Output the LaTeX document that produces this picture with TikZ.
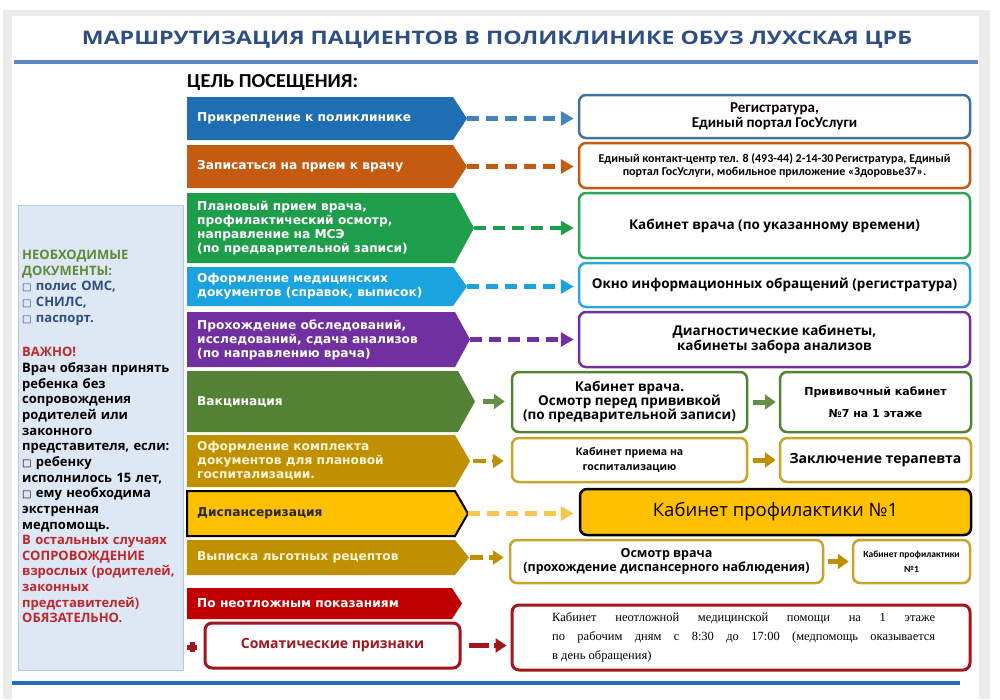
\documentclass[tikz,border=0pt]{standalone}
\usepackage{fontspec}
\usepackage{graphicx}
\usetikzlibrary{arrows.meta}
\setmainfont{Open Sans}
\newfontfamily\dv{DejaVu Sans}
\newfontfamily\carl{Carlito}
\newfontfamily\tnr{Liberation Serif}
\definecolor{cblue}{HTML}{1F6DB3}
\definecolor{corange}{HTML}{C55A11}
\definecolor{cgreen}{HTML}{1E9E4A}
\definecolor{clblue}{HTML}{1BA3DF}
\definecolor{cpurple}{HTML}{7030A0}
\definecolor{cvacc}{HTML}{548235}
\definecolor{cmust}{HTML}{BF9000}
\definecolor{cyel}{HTML}{FFC000}
\definecolor{cyelarrow}{HTML}{F7C64A}
\definecolor{cred}{HTML}{C00000}
\definecolor{cdred}{HTML}{A3151D}
\definecolor{bblue}{HTML}{41719C}
\definecolor{bgreen}{HTML}{2AA65A}
\definecolor{blblue}{HTML}{2FA7DB}
\definecolor{bmust}{HTML}{C9A42A}
\definecolor{titleblue}{HTML}{2E4E86}
\definecolor{panel}{HTML}{DEE8F4}
\definecolor{panelline}{HTML}{B7C9E2}
\definecolor{docgreen}{HTML}{5E8B3A}
\definecolor{docblue}{HTML}{2F4C80}
\definecolor{warnred}{HTML}{C0272D}
\definecolor{framegray}{HTML}{EBEBEB}
\definecolor{cream}{HTML}{FFF4D6}
\definecolor{topline}{HTML}{5A8AC0}
\definecolor{botline}{HTML}{1F70B8}
\newcommand\fs[2]{\fontsize{#1}{#2}\selectfont}
\newcommand\sq{{\dv\fs{10}{10}□}}
% chevron: name, y1, y2, body right, tip, fill style, text style, text
\newcommand\chev[8]{%
  \path[#6] (187,#2) -- (#4,#2) -- (#5,{(#2+#3)/2}) -- (#4,#3) -- (187,#3) -- cycle;
  \coordinate (#1tip) at (#5,{(#2+#3)/2});
  \node[chevtext,#7,anchor=west] (#1) at (197,{(#2+#3)/2}) {#8};
}
% box: name, x1, y1, x2, y2, style, text
\newcommand\rb[7]{%
  \node[rbox,#6,minimum width={#4-#2},minimum height={#5-#3}] (#1) at ({(#2+#4)/2},{(#3+#5)/2}) {#7};
}
\begin{document}
\begin{tikzpicture}[x=1pt,y=-1pt,
  chevtext/.style={inner sep=0pt,align=left,text=white,font=\dv\bfseries\fs{12.2}{14}},
  rbox/.style={draw,rounded corners=7pt,line width=2.5pt,fill=white,inner sep=0pt,align=center,text=black},
  dasharrow/.style={line width=4.5pt,dash pattern=on 12pt off 7pt,-{Triangle[length=13pt,width=14pt]}},
  shortdash/.style={line width=4.5pt,dash pattern=on 13pt off 6pt,-{Triangle[length=11pt,width=14pt]}},
  solidarrow/.style={line width=5pt,-{Triangle[length=11pt,width=15pt]}}]
\useasboundingbox (0,0) rectangle (1000,699);
\fill[white] (0,0) rectangle (1000,699);
\fill[framegray] (3,10) rectangle (990,699);
\fill[white] (12,16) rectangle (979,699);
% title
\node[anchor=base,text=titleblue,inner sep=0pt] (title) at (497,44) {\resizebox{830pt}{13.5pt}{\bfseries МАРШРУТИЗАЦИЯ ПАЦИЕНТОВ В ПОЛИКЛИНИКЕ ОБУЗ ЛУХСКАЯ ЦРБ}};
\draw[topline,line width=4pt] (14,62) -- (978,62);
\draw[botline,line width=4pt] (12,683) -- (960,683);
\node[anchor=base west,inner sep=0pt] (goal) at (187,87) {\resizebox{171pt}{13pt}{\carl\bfseries ЦЕЛЬ ПОСЕЩЕНИЯ:}};
% left panel
\path[fill=panel,draw=panelline,line width=1pt] (18,205) rectangle (183,670);
\node[anchor=north west,inner sep=0pt,text width=162pt,align=left,font=\bfseries\fs{13}{15.65}] (docs) at (22,250) {%
{\color{docgreen}НЕОБХОДИМЫЕ\\ДОКУМЕНТЫ:}\\
{\color{docblue}\sq\ полис ОМС,\\\sq\ СНИЛС,\\\sq\ паспорт.}\\[19pt]
{\color{warnred}ВАЖНО!}\\
Врач обязан принять\\ребенка без\\сопровождения\\родителей или\\законного\\представителя, если:\\\sq\ ребенку\\исполнилось 15 лет,\\\sq\ ему необходима\\экстренная\\медпомощь.\\
{\color{warnred}В остальных случаях\\СОПРОВОЖДЕНИЕ\\взрослых (родителей,\\законных\\представителей)\\ОБЯЗАТЕЛЬНО.}};
% chevrons
\chev{c1}{97}{140}{453}{467}{fill=cblue}{}{Прикрепление к поликлинике}
\chev{c2}{145}{188}{453}{467}{fill=corange}{}{Записаться на прием к врачу}
\chev{c3}{193}{263}{455}{474}{fill=cgreen}{}{Плановый прием врача,\\профилактический осмотр,\\направление на МСЭ\\(по предварительной записи)}
\chev{c4}{267}{306}{453}{467}{fill=clblue}{}{Оформление медицинских\\документов (справок, выписок)}
\chev{c5}{312}{367}{455}{470}{fill=cpurple}{}{Прохождение обследований,\\исследований, сдача анализов\\(по направлению врача)}
\chev{c6}{371}{432}{458}{475}{fill=cvacc}{}{Вакцинация}
\chev{c7}{435}{487}{455}{470}{fill=cmust}{text=cream}{Оформление комплекта\\документов для плановой\\госпитализации.}
\chev{c8}{491}{536}{455}{468}{fill=cyel,draw=black,line width=2pt,line join=miter}{text=black!85}{Диспансеризация}
\chev{c9}{540}{575}{455}{469}{fill=cmust}{text=cream}{Выписка льготных рецептов}
\chev{c10}{588}{619}{452}{462}{fill=cred}{}{По неотложным показаниям}
% somatic box and cross
\rb{s1}{205}{623}{460}{668}{draw=cdred,line width=3pt,text=cdred,font=\bfseries\fs{14}{16}}{Соматические признаки}
\fill[cdred] (189.5,642) rectangle (194.5,652);
\fill[cdred] (187,644.5) rectangle (197,649.5);
% right boxes
\rb{b1}{579}{95}{970}{138}{draw=bblue,font=\carl\bfseries\fs{15}{15}}{Регистратура,\\Единый портал ГосУслуги}
\rb{b2}{579}{143}{970}{188}{draw=corange,font=\carl\bfseries\fs{12}{12.5}}{Единый контакт-центр тел. 8 (493-44) 2-14-30\,Регистратура, Единый\\портал ГосУслуги, мобильное приложение «Здоровье37».}
\rb{b3}{579}{193}{970}{258}{draw=bgreen,font=\bfseries\fs{13.5}{15}}{Кабинет врача (по указанному времени)}
\rb{b4}{579}{263}{970}{307}{draw=blblue,font=\bfseries\fs{13.5}{15}}{Окно информационных обращений (регистратура)}
\rb{b5}{579}{312}{970}{367}{draw=cpurple,font=\bfseries\fs{13.5}{15}}{Диагностические кабинеты,\\кабинеты забора анализов}
\rb{v1}{512}{372}{747}{432}{draw=cvacc,font=\bfseries\fs{13.5}{14}}{Кабинет врача.\\Осмотр перед прививкой\\(по предварительной записи)}
\rb{v2}{780}{372}{971}{432}{draw=cvacc,font=\dv\bfseries\fs{11}{22}}{Прививочный кабинет\\№7 на 1 этаже}
\rb{m1}{512}{438}{747}{482}{draw=bmust,font=\bfseries\fs{10.5}{15}}{Кабинет приема на\\госпитализацию}
\rb{m2}{780}{438}{971}{482}{draw=bmust,font=\bfseries\fs{14}{16}}{Заключение терапевта}
\rb{y1}{580}{489}{971}{535}{fill=cyel,draw=black,font=\fs{18.5}{20}}{Кабинет профилактики №1}
\rb{o1}{510}{540}{823}{583}{draw=bmust,font=\bfseries\fs{12.5}{14}}{Осмотр врача\\(прохождение диспансерного наблюдения)}
\rb{o2}{853}{540}{970}{583}{draw=bmust,font=\carl\bfseries\fs{9.5}{15}}{Кабинет профилактики\\№1}
\rb{r1}{512}{605}{970}{670}{draw=cdred,line width=3pt}{}
\node[anchor=west,inner sep=0pt,text width=383pt,align=justify,font=\tnr\fs{12.5}{19}] (r1t) at (552,637.5) {Кабинет неотложной медицинской помощи на 1 этаже\linebreak по рабочим дням с 8:30 до 17:00 (медпомощь оказывается\linebreak в день обращения)};
% connectors
\draw[dasharrow,cblue!85,shorten <=0pt,shorten >=4pt] (c1tip) -- (c1tip -| b1.west);
\draw[dasharrow,corange,shorten >=4pt] (c2tip) -- (c2tip -| b2.west);
\draw[dasharrow,cgreen,shorten >=4pt] (c3tip) -- (c3tip -| b3.west);
\draw[dasharrow,clblue,shorten >=4pt] (c4tip) -- (c4tip -| b4.west);
\draw[dasharrow,cpurple,shorten >=4pt] (c5tip) -- (c5tip -| b5.west);
\draw[solidarrow,cvacc!90,shorten <=8pt,shorten >=6pt] (c6tip) -- (c6tip -| v1.west);
\draw[solidarrow,cvacc!90,shorten <=5pt,shorten >=3pt] (v1.east) -- (v2.west);
\draw[shortdash,cmust,shorten <=3pt,shorten >=7pt] (c7tip) -- (c7tip -| m1.west);
\draw[solidarrow,cmust,shorten <=5pt,shorten >=3pt] (m1.east) -- (m2.west);
\draw[dasharrow,cyelarrow,shorten >=5pt] (c8tip) -- (c8tip -| y1.west);
\draw[shortdash,cmust,shorten <=1pt,shorten >=5pt] (c9tip) -- (c9tip -| o1.west);
\draw[solidarrow,cmust,shorten <=4pt,shorten >=3pt] (o1.east) -- (o2.west);
\draw[shortdash,cdred,dash pattern=on 20pt off 5pt,shorten <=7pt,shorten >=4pt] (s1.east) -- (r1.west |- s1.east);
\end{tikzpicture}
\end{document}
